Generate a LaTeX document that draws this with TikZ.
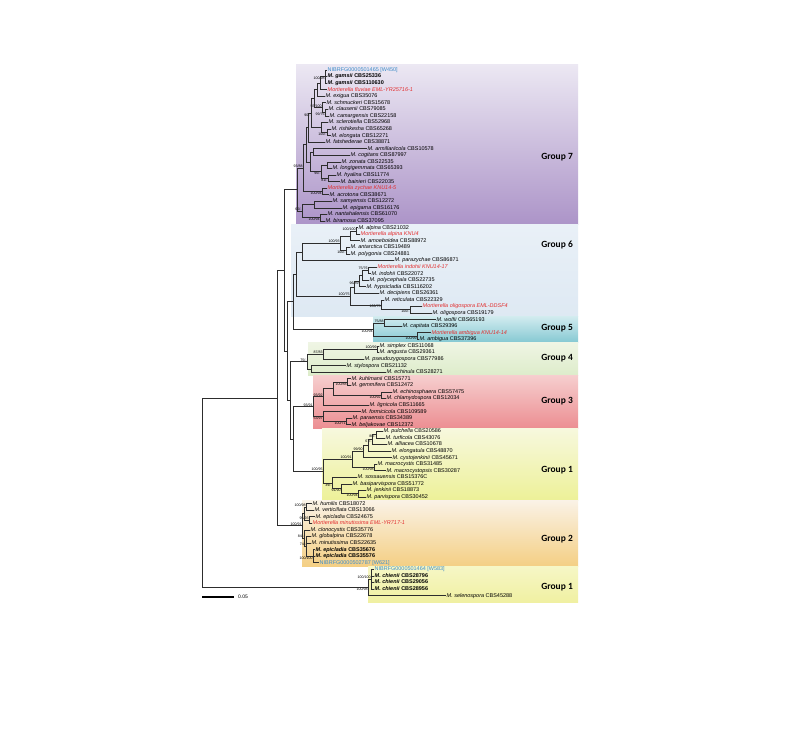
\documentclass[tikz,border=0pt]{standalone}
\usepackage{fontspec}
\setmainfont{Liberation Sans}
\newfontfamily\grpfont{Carlito}
\usetikzlibrary{calc}

\definecolor{isored}{RGB}{226,45,45}
\definecolor{nibrblue}{RGB}{62,140,200}
\definecolor{treegray}{RGB}{45,45,45}

\def\tx#1#2{\textit{#1} #2}
\def\txb#1#2{\textbf{\textit{#1} #2}}
\def\txr#1#2{\textcolor{isored}{\textit{#1 #2}}}
\def\txn#1{\textcolor{nibrblue}{#1}}
\def\cladebase#1[#2](#3)(#4)(#5)(#6){%
	\coordinate (#3) at ($(#5)!0.5!(#6)$);
	\coordinate (#3) at (#4,0 |- #3);
	\draw[branch] (#3) |- (#5);
	\draw[branch] (#3) |- (#6);
	\node[supp,#1] (#3s) at (#3) {#2};}
\def\clade{\cladebase{lbl lo}}
\def\cladeA{\cladebase{lbl hi}}

\begin{document}
\begin{tikzpicture}[x=1bp,y=-6.57bp,
	leaf/.style={anchor=west,inner sep=0.5bp,font=\fontsize{5.5}{6}\selectfont,text height=4bp,text depth=1.2bp},
	branch/.style={line width=0.75bp,draw=treegray},
	supp/.style={inner sep=0.3bp,font=\fontsize{3.6}{4}\selectfont},
	lbl lo/.style={anchor=north east},
	lbl hi/.style={anchor=south east},
	grp/.style={anchor=east,inner sep=0pt,font=\grpfont\bfseries\fontsize{9.5}{11}\selectfont}]
			%%%%% START %%%%%
			
			\fill[white] (0,-10.654) rectangle (800,100.457);
			\useasboundingbox (0,-10.654) rectangle (800,100.457);
			
			% group boxes
			\shade[top color={rgb,255:red,236;green,232;blue,243},bottom color={rgb,255:red,172;green,148;blue,200}] (296,-0.9) rectangle (578,23.5);
			\shade[top color={rgb,255:red,233;green,240;blue,247},bottom color={rgb,255:red,222;green,233;blue,243}] (291,23.5) rectangle (578,37.5);
			\shade[top color={rgb,255:red,210;green,235;blue,239},bottom color={rgb,255:red,132;green,200;blue,210}] (373,37.5) rectangle (578,41.5);
			\shade[top color={rgb,255:red,239;green,245;blue,228},bottom color={rgb,255:red,221;green,236;blue,202}] (308,41.5) rectangle (578,46.5);
			\shade[top color={rgb,255:red,246;green,206;blue,206},bottom color={rgb,255:red,236;green,142;blue,146}] (313,46.5) rectangle (578,54.5);
			\shade[top color={rgb,255:red,247;green,248;blue,222},bottom color={rgb,255:red,237;green,241;blue,152}] (322,54.5) rectangle (578,65.5);
			\shade[top color={rgb,255:red,250;green,242;blue,230},bottom color={rgb,255:red,244;green,207;blue,132}] (302,65.5) rectangle (578,75.5);
			\shade[top color={rgb,255:red,246;green,247;blue,198},bottom color={rgb,255:red,240;green,240;blue,162}] (368,75.5) rectangle (578,81);
			
			\node[grp] (lg7) at (573,13.2) {Group 7};
			\node[grp] (lg6) at (573,26.6) {Group 6};
			\node[grp] (lg5) at (573,39.3) {Group 5};
			\node[grp] (lg4) at (573,43.8) {Group 4};
			\node[grp] (lg3) at (573,50.4) {Group 3};
			\node[grp] (lg1) at (573,60.9) {Group 1};
			\node[grp] (lg2) at (573,71.4) {Group 2};
			\node[grp] (lg1b) at (573,78.7) {Group 1};
			
			% leaves
			\node[leaf] (w450) at (327,0) {\txn{NIBRFG0000501465 [W450]}};
			\node[leaf] (gams1) at (327,1) {\txb{M. gamsii}{CBS25336}};
			\node[leaf] (gams2) at (327,2) {\txb{M. gamsii}{CBS110630}};
			\node[leaf] (fluv) at (327,3) {\txr{Mortierella fluviae}{EML-YR25716-1}};
			\node[leaf] (exig) at (325,4) {\tx{M. exigua}{CBS35076}};
			\node[leaf] (schm) at (326,5) {\tx{M. schmuckeri}{CBS15678}};
			\node[leaf] (clau) at (328,6) {\tx{M. clausenii}{CBS79085}};
			\node[leaf] (cama) at (329,7) {\tx{M. camargensis}{CBS22158}};
			\node[leaf] (scle) at (328,8) {\tx{M. sclerotiella}{CBS52968}};
			\node[leaf] (rish) at (331,9) {\tx{M. rishikesha}{CBS65268}};
			\node[leaf] (elon) at (331,10) {\tx{M. elongata}{CBS12271}};
			\node[leaf] (fats) at (325,11) {\tx{M. fatshederae}{CBS38871}};
			\node[leaf] (armi) at (367,12) {\tx{M. armillariicola}{CBS10578}};
			\node[leaf] (cogi) at (350,13) {\tx{M. cogitans}{CBS87997}};
			\node[leaf] (zona) at (341,14) {\tx{M. zonata}{CBS22535}};
			\node[leaf] (long) at (332,15) {\tx{M. longigemmata}{CBS65393}};
			\node[leaf] (hyal) at (336,16) {\tx{M. hyalina}{CBS11774}};
			\node[leaf] (bain) at (340,17) {\tx{M. bainieri}{CBS22035}};
			\node[leaf] (zych) at (327,18) {\txr{Mortierella zychae}{KNU14-5}};
			\node[leaf] (acro) at (329,19) {\tx{M. acrotona}{CBS38671}};
			\node[leaf] (samy) at (332,20) {\tx{M. samyensis}{CBS12272}};
			\node[leaf] (epig) at (342,21) {\tx{M. epigama}{CBS16176}};
			\node[leaf] (nant) at (327,22) {\tx{M. nantahalensis}{CBS61070}};
			\node[leaf] (bira) at (325,23) {\tx{M. biramosa}{CBS37095}};
			
			\node[leaf] (alp1) at (358,24) {\tx{M. alpina}{CBS21032}};
			\node[leaf] (alpK) at (360,25) {\txr{Mortierella alpina}{KNU4}};
			\node[leaf] (amoe) at (360,26) {\tx{M. amoeboidea}{CBS88972}};
			\node[leaf] (anta) at (350,27) {\tx{M. antarctica}{CBS19489}};
			\node[leaf] (poly) at (350,28) {\tx{M. polygonia}{CBS24881}};
			\node[leaf] (para) at (394,29) {\tx{M. parazychae}{CBS86871}};
			\node[leaf] (indK) at (377,30) {\txr{Mortierella indohii}{KNU14-17}};
			\node[leaf] (indo) at (371,31) {\tx{M. indohii}{CBS22072}};
			\node[leaf] (pcep) at (369,32) {\tx{M. polycephala}{CBS22735}};
			\node[leaf] (hyps) at (366,33) {\tx{M. hypsicladia}{CBS116202}};
			\node[leaf] (deci) at (379,34) {\tx{M. decipiens}{CBS26361}};
			\node[leaf] (reti) at (384,35) {\tx{M. reticulata}{CBS22329}};
			\node[leaf] (oliE) at (422,36) {\txr{Mortierella oligospora}{EML-DDSF4}};
			\node[leaf] (olig) at (432,37) {\tx{M. oligospora}{CBS19179}};
			
			\node[leaf] (wolf) at (436,38) {\tx{M. wolfii}{CBS65193}};
			\node[leaf] (capi) at (402,39) {\tx{M. capitata}{CBS29396}};
			\node[leaf] (ambK) at (431,40) {\txr{Mortierella ambigua}{KNU14-14}};
			\node[leaf] (ambi) at (419,41) {\tx{M. ambigua}{CBS37396}};
			
			\node[leaf] (simp) at (379,42) {\tx{M. simplex}{CBS11068}};
			\node[leaf] (angu) at (379,43) {\tx{M. angusta}{CBS29361}};
			\node[leaf] (pseu) at (364,44) {\tx{M. pseudozygospora}{CBS77986}};
			\node[leaf] (styl) at (346,45) {\tx{M. stylospora}{CBS21132}};
			\node[leaf] (echu) at (386,46) {\tx{M. echinula}{CBS28271}};
			
			\node[leaf] (kuhl) at (351,47) {\tx{M. kuhlmanii}{CBS15771}};
			\node[leaf] (gemm) at (351,48) {\tx{M. gemmifera}{CBS12472}};
			\node[leaf] (echs) at (392,49) {\tx{M. echinosphaera}{CBS57475}};
			\node[leaf] (chla) at (386,50) {\tx{M. chlamydospora}{CBS12034}};
			\node[leaf] (lign) at (369,51) {\tx{M. lignicola}{CBS11665}};
			\node[leaf] (form) at (361,52) {\tx{M. formicicola}{CBS109589}};
			\node[leaf] (prae) at (352,53) {\tx{M. paraensis}{CBS34389}};
			\node[leaf] (belj) at (351,54) {\tx{M. beljakovae}{CBS12372}};
			
			\node[leaf] (pulc) at (383,55) {\tx{M. pulchella}{CBS20586}};
			\node[leaf] (turf) at (385,56) {\tx{M. turficola}{CBS43076}};
			\node[leaf] (alli) at (387,57) {\tx{M. alliacea}{CBS10678}};
			\node[leaf] (elgt) at (391,58) {\tx{M. elongatula}{CBS48870}};
			\node[leaf] (cyst) at (392,59) {\tx{M. cystojenkinii}{CBS45671}};
			\node[leaf] (mcys) at (377,60) {\tx{M. macrocystis}{CBS31485}};
			\node[leaf] (mcyp) at (386,61) {\tx{M. macrocystopsis}{CBS30287}};
			\node[leaf] (soss) at (357,62) {\tx{M. sossauensis}{CBS15376C}};
			\node[leaf] (basi) at (352,63) {\tx{M. basiparvispora}{CBS51772}};
			\node[leaf] (jenk) at (366,64) {\tx{M. jenkinii}{CBS18873}};
			\node[leaf] (parv) at (366,65) {\tx{M. parvispora}{CBS30452}};
			
			\node[leaf] (humi) at (312,66) {\tx{M. humilis}{CBS18072}};
			\node[leaf] (vert) at (314,67) {\tx{M. verticillata}{CBS13066}};
			\node[leaf] (epc1) at (315,68) {\tx{M. epicladia}{CBS24675}};
			\node[leaf] (minE) at (312,69) {\txr{Mortierella minutissima}{EML-YR717-1}};
			\node[leaf] (clon) at (310,70) {\tx{M. clonocystis}{CBS35776}};
			\node[leaf] (glob) at (311,71) {\tx{M. globalpina}{CBS22678}};
			\node[leaf] (minu) at (311,72) {\tx{M. minutissima}{CBS22635}};
			\node[leaf] (epc2) at (315,73) {\txb{M. epicladia}{CBS35676}};
			\node[leaf] (epc3) at (315,74) {\txb{M. epicladia}{CBS35576}};
			\node[leaf] (w621) at (319,75) {\txn{NIBRFG0000502787 [W621]}};
			
			\node[leaf] (w583) at (374,76) {\txn{NIBRFG0000501464 [W583]}};
			\node[leaf] (chi1) at (374,77) {\txb{M. chienii}{CBS28796}};
			\node[leaf] (chi2) at (374,78) {\txb{M. chienii}{CBS29056}};
			\node[leaf] (chi3) at (374,79) {\txb{M. chienii}{CBS28956}};
			\node[leaf] (sele) at (446,80) {\tx{M. selenospora}{CBS45288}};
			
			% group 7
			\clade[100/98](n7g)(325)(w450)(gams2)
			\draw[branch] (n7g) |- (gams1);
			\clade[](n7fl)(320)(n7g)(fluv)
			\clade[](n7f)(317)(n7fl)(exig)
			\clade[99/76](n7cc)(325)(clau)(cama)
			\cladeA[55/100](n7sc)(322)(schm)(n7cc)
			\clade[](n7gg)(314)(n7f)(n7sc)
			\clade[100/-](n7re)(327)(rish)(elon)
			\clade[](n7s)(321)(scle)(n7re)
			\clade[90/-](n7top)(311)(n7gg)(n7s)
			\clade[](n7h)(308)(n7top)(fats)
			\clade[](n7ar)(313)(armi)(cogi)
			\clade[](n7zo)(327)(zona)(long)
			\clade[81/-](n7hb)(328)(hyal)(bain)
			\clade[96/-](n7zl)(321)(n7zo)(n7hb)
			\clade[](n7ac)(310)(n7ar)(n7zl)
			\clade[](n7i)(306)(n7h)(n7ac)
			\clade[100/94](n7zy)(322)(zych)(acro)
			\cladeA[93/88](n7a)(303)(n7i)(n7zy)
			\clade[](n7se)(314)(samy)(epig)
			\clade[100/94](n7nb)(320)(nant)(bira)
			\cladeA[65/-](n7b)(302)(n7se)(n7nb)
			\clade[](g7)(297)(n7a)(n7b)
			
			% group 6
			\cladeA[100/100](n6a2)(356)(alp1)(alpK)
			\clade[](n6a1)(350)(n6a2)(amoe)
			\clade[100/-](n6ap)(346)(anta)(poly)
			\cladeA[100/93](n6al)(340)(n6a1)(n6ap)
			\clade[](n6a)(302)(n6al)(para)
			\cladeA[75/76](n6i3)(368)(indK)(indo)
			\clade[](n6ix)(362)(n6i3)(pcep)
			\clade[96/89](n6ih)(359)(n6ix)(hyps)
			\clade[](n6x)(354)(n6ih)(deci)
			\clade[100/-](n6ol)(410)(oliE)(olig)
			\clade[100/75](n6ro)(381)(reti)(n6ol)
			\cladeA[100/75](n6b)(350)(n6x)(n6ro)
			\clade[](g6)(296)(n6a)(n6b)
			
			% group 5
			\cladeA[75/88](n5a)(384)(wolf)(capi)
			\clade[100/99](n5b)(417)(ambK)(ambi)
			\clade[100/94](g5)(373)(n5a)(n5b)
			\clade[](g65)(293)(g6)(g5)
			
			% group 4
			\cladeA[100/99](n4sa)(377)(simp)(angu)
			\cladeA[87/83](n4a)(323)(n4sa)(pseu)
			\clade[](n4b)(311)(styl)(echu)
			\cladeA[75/-](g4)(307)(n4a)(n4b)
			
			% group 3
			\clade[100/88](n3kg)(347)(kuhl)(gemm)
			\clade[100/92](n3ec)(381)(echs)(chla)
			\clade[](n3b)(333)(n3kg)(n3ec)
			\cladeA[93/92](n3a)(323)(n3b)(lign)
			\clade[100/71](n3pb)(346)(prae)(belj)
			\clade[53/97](n3c)(323)(form)(n3pb)
			\cladeA[93/91](g3)(313)(n3a)(n3c)
			
			% group 1
			\clade[88/-](n1r)(376)(pulc)(turf)
			\clade[67/-](n1s)(372)(n1r)(alli)
			\clade[](n1t)(368)(n1s)(elgt)
			\cladeA[99/90](n1p)(363)(n1t)(cyst)
			\clade[100/98](n1m)(374)(mcys)(mcyp)
			\cladeA[100/91](n1a)(352)(n1p)(n1m)
			\clade[100/94](n1jp)(358)(jenk)(parv)
			\clade[91/90](n1c)(341)(basi)(n1jp)
			\clade[39/-](n1b)(332)(soss)(n1c)
			\cladeA[100/95](g1)(323)(n1a)(n1b)
			
			\clade[](n31)(293)(g3)(g1)
			\clade[](g431)(290)(g4)(n31)
			\clade[](nC)(287)(g65)(g431)
			\clade[](nB)(284)(g7)(nC)
			
			% group 2
			\cladeA[100/98](n2hv)(306)(humi)(vert)
			\cladeA[95/93](n2e)(309)(epc1)(minE)
			\clade[](n2t)(304)(n2hv)(n2e)
			\clade[100/100](n2ep)(313)(epc2)(w621)
			\draw[branch] (n2ep) |- (epc3);
			\cladeA[74/-](n2g)(306.5)(glob)(n2ep)
			\draw[branch] (n2g) |- (minu);
			\cladeA[84/-](n2c)(304.5)(clon)(n2g)
			\cladeA[100/91](g2)(302)(n2t)(n2c)
			\clade[](nA)(277)(nB)(g2)
			
			% group 1, second clade
			\cladeA[100/100](n1w)(371)(w583)(chi3)
			\draw[branch] (n1w) |- (chi1);
			\draw[branch] (n1w) |- (chi2);
			\clade[100/98](g1b)(368)(n1w)(sele)
			
			\clade[](nR)(202)(nA)(g1b)
			
			% scale bar
			\coordinate (sb0) at (202,80.2);
			\coordinate (sb1) at (234,80.2);
			\draw[line width=1.4bp] (sb0) -- (sb1);
			\node[anchor=west,inner sep=0pt,font=\fontsize{5}{6}\selectfont] (sbt) at ([xshift=4bp]sb1) {0.05};
			
			%%%%% END %%%%%
\end{tikzpicture}
\end{document}
